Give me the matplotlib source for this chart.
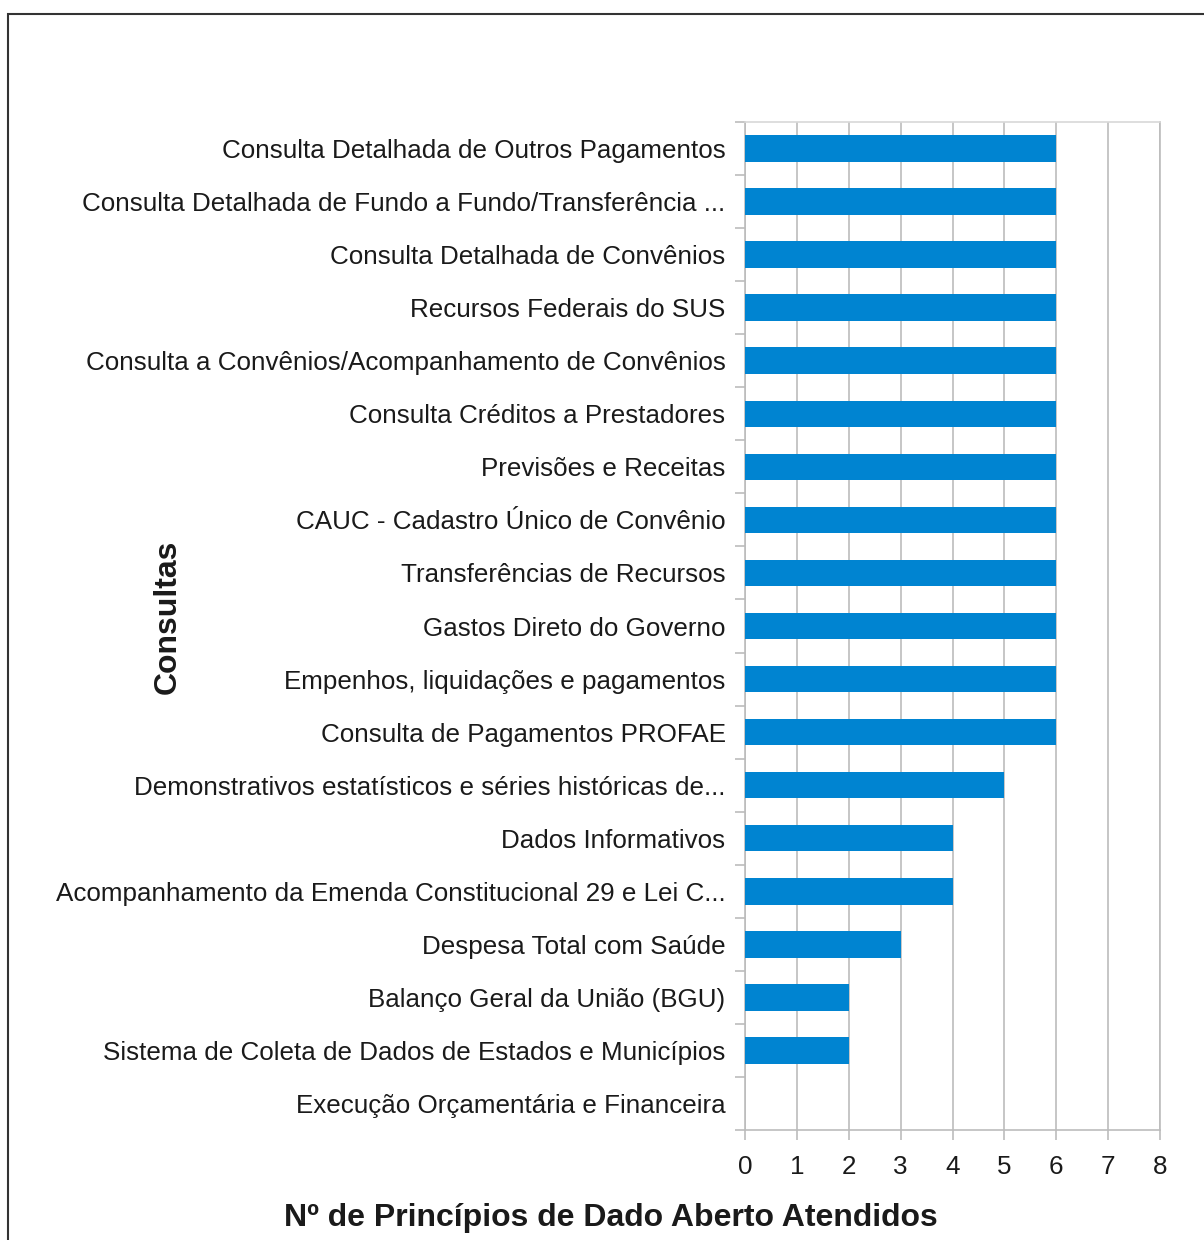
import matplotlib.pyplot as plt
from matplotlib.patches import Rectangle
import numpy as np

plt.rcParams['font.family'] = ['Liberation Sans', 'DejaVu Sans']

# top to bottom, as in the reference
consultas = [
    'Consulta Detalhada de Outros Pagamentos',
    'Consulta Detalhada de Fundo a Fundo/Transferência ...',
    'Consulta Detalhada de Convênios',
    'Recursos Federais do SUS',
    'Consulta a Convênios/Acompanhamento de Convênios',
    'Consulta Créditos a Prestadores',
    'Previsões e Receitas',
    'CAUC - Cadastro Único de Convênio',
    'Transferências de Recursos',
    'Gastos Direto do Governo',
    'Empenhos, liquidações e pagamentos',
    'Consulta de Pagamentos PROFAE',
    'Demonstrativos estatísticos e séries históricas de...',
    'Dados Informativos',
    'Acompanhamento da Emenda Constitucional 29 e Lei C...',
    'Despesa Total com Saúde',
    'Balanço Geral da União (BGU)',
    'Sistema de Coleta de Dados de Estados e Municípios',
    'Execução Orçamentária e Financeira',
]
principios = [6, 6, 6, 6, 6, 6, 6, 6, 6, 6, 6, 6, 5, 4, 4, 3, 2, 2, 0]

bar_color = '#0084d1'
grid_color = '#bcbcbc'
text_color = '#1a1a1a'

fig = plt.figure(figsize=(12.04, 12.40), dpi=100)
ax = fig.add_axes([745 / 1204, 1 - 1130 / 1240, 415 / 1204, 1008 / 1240])

ypos = np.arange(len(consultas))
ax.barh(ypos, principios, height=0.5, color=bar_color, zorder=3)
ax.set_ylim(len(consultas) - 0.5, -0.5)
ax.set_xlim(0, 8)
ax.set_xticks(range(0, 9))

ax.set_yticks(ypos)
ax.set_yticklabels(consultas)
ax.set_yticks(np.arange(-0.5, len(consultas), 1), minor=True)
ax.tick_params(axis='y', which='major', length=0, pad=14, labelsize=18.7,
               labelcolor=text_color)
ax.tick_params(axis='y', which='minor', length=7, width=1.2, color=grid_color)
ax.tick_params(axis='x', which='major', length=7, width=1.2, color=grid_color,
               pad=11, labelsize=18.7, labelcolor=text_color)

ax.grid(axis='x', color=grid_color, linewidth=1.2, zorder=0)
ax.set_axisbelow(True)
for side in ['left', 'bottom', 'right']:
    ax.spines[side].set_color(grid_color)
    ax.spines[side].set_linewidth(1.2)
ax.spines['top'].set_color('#d8d8d8')
ax.spines['top'].set_linewidth(1.2)

fig.text(168 / 1204, 1 - 617 / 1240, 'Consultas', rotation=90, ha='center',
         va='center', fontsize=23, fontweight='bold', color=text_color)
fig.text(611 / 1204, 1 - 1218 / 1240, 'Nº de Princípios de Dado Aberto Atendidos',
         ha='center', va='center', fontsize=23, fontweight='bold', color=text_color)

# outer frame, running off the right and bottom edges
fig.patches.append(Rectangle((8 / 1204, -0.1), 1.2, 1 - 13.5 / 1240 + 0.1,
                             transform=fig.transFigure, fill=False,
                             edgecolor='#333333', linewidth=1.5))

fig.savefig('out.png', dpi=100)
